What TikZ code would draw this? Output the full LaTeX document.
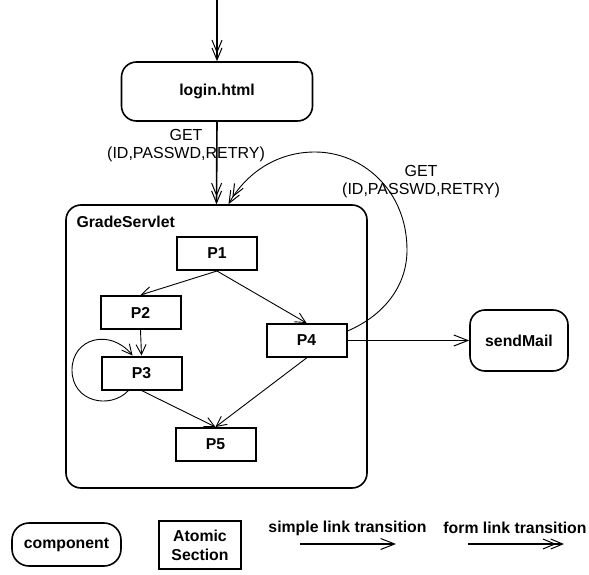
\documentclass[tikz,border=0pt]{standalone}
\usepackage{fontspec}
\setmainfont{Liberation Sans}
\usetikzlibrary{arrows.meta}
\begin{document}
\begin{tikzpicture}[x=1pt,y=-1pt,
  font=\fontsize{16}{18}\selectfont,
  bf/.style={font=\bfseries\fontsize{15.8}{19}\selectfont},
  comp/.style={draw,line width=1.6pt,rounded corners=15pt,bf,inner sep=0pt},
  atom/.style={draw,line width=2pt,minimum width=80pt,minimum height=33pt,bf,inner sep=0pt},
  sarr/.style={-{Straight Barb[length=14pt,width=11pt,line width=1pt]}},
  tarr/.style={-{Straight Barb[length=10pt,width=10pt,line width=0.9pt]}},
  farr/.style={-{Straight Barb[length=12pt,width=10pt,line width=1pt,sep=-6pt] Straight Barb[length=12pt,width=10pt,line width=1pt]}},
  thin1/.style={line width=0.9pt},
  thick1/.style={line width=1.6pt}]
\useasboundingbox (0,0) rectangle (589,575);
% components
\node[comp,minimum width=191pt,minimum height=59pt] (login) at (217,91.5) {login.html};
\node[comp,minimum width=301pt,minimum height=283pt] (gs) at (216.5,346.5) {};
\node[anchor=west,bf] (gsl) at (73,222) {GradeServlet};
\node[comp,minimum width=98pt,minimum height=61pt] (mail) at (519,340.5) {sendMail};
% atomic sections
\node[atom] (p1) at (217,253.5) {P1};
\node[atom] (p2) at (140.5,312.5) {P2};
\node[atom] (p3) at (141.5,373) {P3};
\node[atom] (p4) at (306.5,340.5) {P4};
\node[atom] (p5) at (215.5,444.5) {P5};
% entry
\coordinate (start) at (217,0);
\draw[thick1,farr] (start) -- (login.north);
\draw[thick1,farr] (login.south) -- (gs.north);
\node[align=center] (lab1) at (186,146) {GET\\(ID,PASSWD,RETRY)};
\node[align=center] (lab2) at (421,182) {GET\\(ID,PASSWD,RETRY)};
% inner edges
\draw[thin1,tarr] (p1.south) -- (p2.north);
\draw[thin1,tarr] (p1.south) -- (p4.north);
\draw[thin1,tarr] (p2.south) -- (p3.north);
\draw[thin1,tarr] (p3.south) -- (p5.north);
\draw[thin1,tarr] (p4.south) -- (p5.north);
% self loop on P3
\draw[thin1,tarr] ([xshift=-13pt]p3.south) .. controls (110,410) and (72,402) .. (72,370)
   .. controls (72,338) and (110,328) .. ([xshift=-9pt]p3.north);
% loop from P4 back to GradeServlet
\draw[thin1,farr] ([yshift=-8pt]p4.north east) .. controls (385,315) and (407,285) .. (407,250)
   .. controls (407,190) and (362,152) .. (315,152)
   .. controls (275,152) and (245,175) .. ([xshift=12pt]gs.north);
% to sendMail
\draw[thick1,sarr] (p4.east) -- (mail.west);
% legend
\node[comp,minimum width=109pt,minimum height=43pt,rounded corners=17pt] (lcomp) at (66.5,544.5) {component};
\node[draw,line width=2pt,minimum width=82pt,minimum height=48pt,align=center,bf,inner sep=0pt] (latom) at (200,545) {Atomic\\Section};
\node[bf] (lsimple) at (347.5,528) {simple link transition};
\node[bf] (lform) at (515,528) {form link transition};
\coordinate (s1) at (300,544);
\coordinate (s2) at (396,544);
\coordinate (f1) at (468,544);
\coordinate (f2) at (564,544);
\draw[thick1,sarr] (s1) -- (s2);
\draw[thick1,farr] (f1) -- (f2);
\end{tikzpicture}
\end{document}
